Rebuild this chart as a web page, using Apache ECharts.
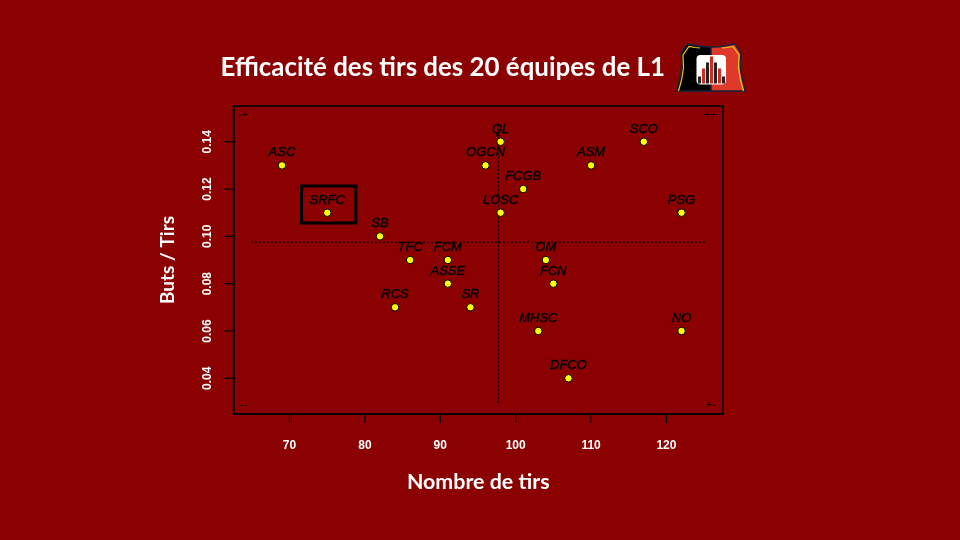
<!DOCTYPE html>
<html><head><meta charset="utf-8">
<style>html,body{margin:0;padding:0;background:#8b0000}#c{width:960px;height:540px}</style>
<script src="https://cdn.jsdelivr.net/npm/echarts@6/dist/echarts.min.js"></script>
</head><body><div id="c"></div>
<script>
const teams = ['ASC','SRFC','SB','TFC','FCM','ASSE','RCS','SR','QL','OGCN','FCGB','LOSC','ASM','SCO','PSG','OM','FCN','MHSC','NO','DFCO'];
const shots = [69,75,82,86,91,91,84,94,98,96,101,98,110,117,122,104,105,103,122,107];
const ratio = [0.13,0.11,0.10,0.09,0.09,0.08,0.07,0.07,0.14,0.13,0.12,0.11,0.13,0.14,0.11,0.09,0.08,0.06,0.06,0.04];
const xTicks = [70,80,90,100,110,120];
const yTicks = [0.04,0.06,0.08,0.10,0.12,0.14];
const xMin = 62.57, xMax = 127.5, yMin = 0.0249, yMax = 0.1551;
const hLine = [[64.9,0.0975],[125.2,0.0975]];
const vLine = [[97.7,0.0297],[97.7,0.1483]];
const highlight = [[71.6,0.1213],[78.8,0.1056]];

const chart = echarts.init(document.getElementById('c'));
const dotted = d => ({type:'line',data:d,symbol:'none',silent:true,z:1,animation:false,
  lineStyle:{color:'#000',width:1.2,type:[2,2]}});
const tickMarks = (data,size,offset) => ({type:'scatter',data,symbol:'rect',symbolSize:size,symbolOffset:offset,clip:false,silent:true,z:2,
  itemStyle:{color:'#000',opacity:1}});
const corner = (x,y,t) => ({type:'text',x,y,style:{text:t,fill:'#000',font:'11px "Liberation Sans"',textAlign:'center',textVerticalAlign:'middle'}});
const b = (x,h,c) => ({type:'rect',shape:{x,y:83.5-h,width:3,height:h},style:{fill:c}});
const leftShield = [[677,91],[679,82],[681,72],[682,62],[681,54],[683,50],[688,44],[695,45.5],[703,46.7],[711,47],[711,91]];
const rightShield = [[711,47],[719,46.7],[727,45.5],[735,44],[739,50],[741,54],[740,62],[741,72],[743,82],[745,91],[711,91]];
const leftGold = [[678.5,91],[681.5,80],[683.5,68],[683,55],[689,46.5],[695,47.5],[700,48]];
const rightGold = [[743.5,91],[740.5,80],[738.5,68],[739,55],[733,46.5],[727,47.5],[722,48]];
chart.setOption({
  backgroundColor:'#8b0000',
  animation:false,
  title:{text:'Efficacité des tirs des 20 équipes de L1',left:215.5,top:50,
    textStyle:{color:'#fff',fontFamily:'Lato',fontWeight:'bold',fontSize:25.9}},
  grid:{left:233.5,right:237,top:106,bottom:126,show:true,backgroundColor:'transparent',borderColor:'#000',borderWidth:1.5},
  xAxis:{type:'value',min:xMin,max:xMax,name:'Nombre de tirs',nameLocation:'middle',nameGap:58,
    nameTextStyle:{color:'#fff',fontFamily:'Lato',fontWeight:'bold',fontSize:21.4},
    splitLine:{show:false},axisLine:{show:true,onZero:false,lineStyle:{color:'#000',width:1.5}},
    axisTick:{show:false},
    axisLabel:{color:'#fff',fontFamily:'Liberation Sans',fontWeight:'bold',fontSize:12,margin:26,customValues:xTicks,formatter:v=>String(v)}},
  yAxis:{type:'value',min:yMin,max:yMax,name:'Buts / Tirs',nameLocation:'middle',nameGap:56,
    nameTextStyle:{color:'#fff',fontFamily:'Lato',fontWeight:'bold',fontSize:19},
    splitLine:{show:false},axisLine:{show:true,onZero:false,lineStyle:{color:'#000',width:1.5}},
    axisTick:{show:false},
    axisLabel:{color:'#fff',fontFamily:'Liberation Sans',fontWeight:'bold',fontSize:12,margin:20,rotate:90,customValues:yTicks,formatter:v=>v.toFixed(2)}},
  series:[
    {type:'scatter',data:shots.map((s,i)=>({name:teams[i],value:[s,ratio[i]]})),symbolSize:7.5,z:5,
     itemStyle:{color:'#ffff00',borderColor:'#000',borderWidth:1,opacity:1},
     label:{show:true,position:'top',distance:2,formatter:p=>p.name,color:'#000',fontFamily:'Liberation Sans',fontStyle:'italic',textBorderColor:'#000',textBorderWidth:0.4,fontSize:13},
     labelLayout:{hideOverlap:false},
     markArea:{silent:true,itemStyle:{color:'transparent',borderColor:'#000',borderWidth:3},
       data:[[{coord:highlight[0]},{coord:highlight[1]}]]}},
    dotted(hLine),dotted(vLine),
    tickMarks(xTicks.map(v=>[v,yMin]),[1.2,9],[0,4.5]),
    tickMarks(yTicks.map(v=>[xMin,v]),[9,1.2],[-4.5,0])
  ],
  graphic:[
    corner(243.5,114.5,'-+'),corner(710.5,114.5,'++'),corner(244,405,'--'),corner(711,405,'+-'),
    {type:'polygon',shape:{points:leftShield},style:{fill:'#000',stroke:'#10233f',lineWidth:1.5}},
    {type:'polygon',shape:{points:rightShield},style:{fill:'#e0392b',stroke:'#10233f',lineWidth:1.5}},
    {type:'polyline',shape:{points:leftGold},style:{fill:'none',stroke:'#f5c518',lineWidth:1.2}},
    {type:'polyline',shape:{points:rightGold},style:{fill:'none',stroke:'#f5c518',lineWidth:1.2}},
    {type:'rect',shape:{x:696.5,y:55,width:29.5,height:29.5,r:4},style:{fill:'#fff'}},
    b(698,7,'#222'),b(702,15,'#d42b20'),b(706,21,'#222'),b(710,27,'#d42b20'),b(714,21,'#222'),b(718,15,'#d42b20'),b(722,7,'#222')
  ]
});
</script></body></html>
